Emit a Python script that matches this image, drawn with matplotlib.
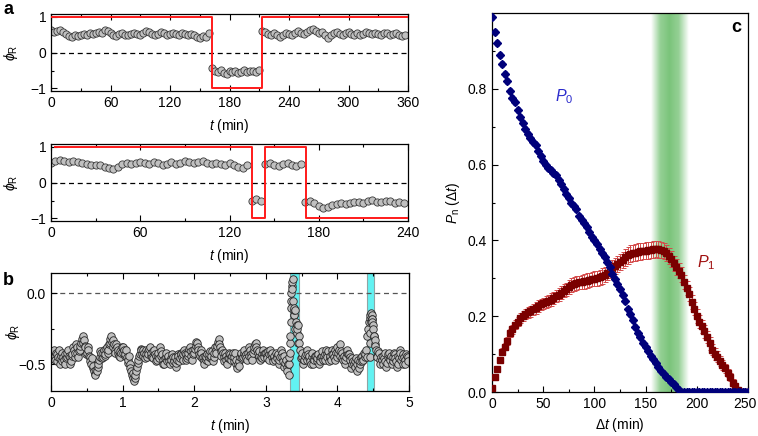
import numpy as np
import matplotlib.pyplot as plt
from matplotlib.transforms import ScaledTranslation

plt.rcParams['font.family'] = ['Liberation Sans', 'DejaVu Sans']
plt.rcParams['mathtext.fontset'] = 'custom'
plt.rcParams['mathtext.rm'] = 'Liberation Sans'
plt.rcParams['mathtext.it'] = 'Liberation Sans:italic'
plt.rcParams['font.size'] = 10

# ---- panel a (top): phi_R every 3 min, 0..357
a1_phi = [0.62, 0.58, 0.6, 0.62, 0.57, 0.52, 0.47, 0.45, 0.5, 0.46, 0.49, 0.53, 0.5, 0.55, 0.52, 0.56, 0.58, 0.55, 0.63, 0.6,
          0.55, 0.5, 0.47, 0.52, 0.55, 0.5, 0.48, 0.53, 0.56, 0.52, 0.5, 0.55, 0.6, 0.57, 0.52, 0.49, 0.53, 0.57, 0.55, 0.5,
          0.52, 0.56, 0.53, 0.5, 0.55, 0.52, 0.48, 0.53, 0.5, 0.45, 0.42, 0.47, 0.44, 0.54,
          -0.42, -0.5, -0.55, -0.48, -0.56, -0.6, -0.52, -0.55, -0.5, -0.58, -0.53, -0.49, -0.55, -0.52, -0.5, -0.54, -0.48,
          0.6, 0.57, 0.52, 0.5, 0.55, 0.48, 0.43, 0.5, 0.55, 0.52, 0.5, 0.56, 0.6, 0.55, 0.52, 0.58, 0.63, 0.65, 0.6, 0.55,
          0.57, 0.5, 0.42, 0.48, 0.55, 0.58, 0.52, 0.5, 0.54, 0.57, 0.52, 0.5, 0.55, 0.5, 0.53, 0.58, 0.55, 0.52, 0.56, 0.53,
          0.5, 0.55, 0.56, 0.5, 0.52, 0.56, 0.5, 0.46, 0.48]
a1_switch_t = [1, 162, 212.5, 360]
a1_state = [1, -1, 1, 1]

# ---- panel a (bottom): phi_R every 3 min, 0..237
a2_phi = [0.55, 0.6, 0.62, 0.6, 0.58, 0.6, 0.57, 0.55, 0.52, 0.5, 0.48, 0.5, 0.45, 0.4, 0.37, 0.45, 0.52, 0.55, 0.53, 0.56,
          0.58, 0.55, 0.52, 0.57, 0.55, 0.5, 0.53, 0.57, 0.52, 0.55, 0.6, 0.57, 0.55, 0.58, 0.6, 0.56, 0.53, 0.55, 0.52, 0.5,
          0.55, 0.48, 0.45, 0.42, 0.5,
          -0.5, -0.45, -0.52,
          0.52, 0.55, 0.5, 0.47, 0.52, 0.55, 0.5, 0.47, 0.53,
          -0.55, -0.52, -0.58, -0.65, -0.7, -0.68, -0.62, -0.6, -0.57, -0.6, -0.56, -0.53, -0.55, -0.57, -0.52, -0.48,
          -0.53, -0.55, -0.5, -0.52, -0.56, -0.53, -0.58]
a2_switch_t = [3, 135, 144, 171.5, 240]
a2_state = [1, -1, 1, -1, -1]

# ---- panel b: phi_R on a 0.02 min grid (b_phi) and the shifted 0.01 + 0.02k grid (b_phi2)
b_phi = [-0.42, -0.45, -0.4, -0.47, -0.43, -0.45, -0.5, -0.44, -0.42, -0.47, -0.5, -0.45, -0.4, -0.45, -0.48, -0.43, -0.4, -0.42, -0.38, -0.45, -0.4, -0.35, -0.3, -0.33, -0.38,
         -0.42, -0.4, -0.45, -0.5, -0.53, -0.55, -0.58, -0.55, -0.5, -0.45, -0.42, -0.45, -0.4, -0.43, -0.38, -0.4, -0.35, -0.3, -0.33, -0.36, -0.42, -0.38, -0.4, -0.45, -0.42,
         -0.38, -0.4, -0.43, -0.45, -0.47, -0.5, -0.55, -0.6, -0.62, -0.58, -0.52, -0.47, -0.43, -0.4, -0.44, -0.42, -0.4, -0.45, -0.43, -0.38, -0.42, -0.46, -0.4, -0.44, -0.47,
         -0.42, -0.38, -0.44, -0.47, -0.5, -0.45, -0.48, -0.44, -0.5, -0.47, -0.45, -0.48, -0.52, -0.47, -0.44, -0.46, -0.43, -0.47, -0.4, -0.43, -0.46, -0.42, -0.38, -0.44, -0.4,
         -0.42, -0.37, -0.35, -0.4, -0.44, -0.42, -0.45, -0.5, -0.47, -0.43, -0.45, -0.41, -0.44, -0.48, -0.42, -0.4, -0.37, -0.32, -0.38, -0.44, -0.42, -0.48, -0.44, -0.5, -0.46,
         -0.43, -0.47, -0.42, -0.45, -0.5, -0.53, -0.48, -0.45, -0.42, -0.45, -0.4, -0.43, -0.47, -0.44, -0.4, -0.45, -0.42, -0.38, -0.35, -0.4, -0.44, -0.47, -0.43, -0.4, -0.45,
         -0.42, -0.46, -0.43, -0.4, -0.45, -0.48, -0.44, -0.42, -0.46, -0.5, -0.45, -0.42, -0.48, -0.52, -0.47, -0.55, -0.58, -0.3, 0.05, 0.1, -0.1, -0.2, -0.25, -0.3, -0.4,
         -0.45, -0.5, -0.47, -0.43, -0.4, -0.46, -0.48, -0.45, -0.5, -0.47, -0.44, -0.46, -0.5, -0.48, -0.44, -0.47, -0.43, -0.4, -0.45, -0.48, -0.44, -0.4, -0.43, -0.47, -0.42,
         -0.38, -0.4, -0.44, -0.42, -0.47, -0.5, -0.45, -0.4, -0.43, -0.47, -0.5, -0.48, -0.52, -0.46, -0.5, -0.53, -0.48, -0.44, -0.47, -0.45, -0.4, -0.3, -0.2, -0.15, -0.18,
         -0.25, -0.33, -0.4, -0.45, -0.42, -0.5, -0.47, -0.44, -0.48, -0.52, -0.45, -0.42, -0.47, -0.5, -0.45, -0.43, -0.48, -0.5, -0.46, -0.42, -0.45, -0.5, -0.47, -0.43, -0.45]
b_phi2 = [-0.46, -0.41, -0.44, -0.42, -0.48, -0.4, -0.46, -0.48, -0.45, -0.43, -0.46, -0.42, -0.44, -0.5, -0.44, -0.38, -0.45, -0.36, -0.42, -0.41, -0.37, -0.32, -0.35, -0.37, -0.43,
          -0.38, -0.44, -0.48, -0.46, -0.51, -0.57, -0.54, -0.52, -0.47, -0.41, -0.46, -0.42, -0.44, -0.39, -0.42, -0.36, -0.32, -0.34, -0.38, -0.4, -0.36, -0.42, -0.44, -0.41, -0.38,
          -0.42, -0.44, -0.4, -0.49, -0.44, -0.53, -0.58, -0.56, -0.6, -0.55, -0.49, -0.44, -0.39, -0.43, -0.4, -0.46, -0.43, -0.41, -0.39, -0.44, -0.45, -0.41, -0.43, -0.48, -0.44,
          -0.46, -0.41, -0.43, -0.5, -0.46, -0.42, -0.45, -0.48, -0.46, -0.43, -0.49, -0.45, -0.49, -0.43, -0.48, -0.42, -0.45, -0.43, -0.42, -0.47, -0.44, -0.39, -0.41, -0.47, -0.43,
          -0.39, -0.34, -0.38, -0.43, -0.4, -0.46, -0.48, -0.44, -0.45, -0.48, -0.43, -0.46, -0.41, -0.45, -0.38, -0.42, -0.34, -0.36, -0.41, -0.4, -0.45, -0.42, -0.47, -0.46, -0.42,
          -0.45, -0.44, -0.48, -0.42, -0.47, -0.5, -0.51, -0.43, -0.46, -0.42, -0.44, -0.46, -0.42, -0.38, -0.43, -0.47, -0.4, -0.36, -0.38, -0.42, -0.41, -0.45, -0.46, -0.43, -0.42,
          -0.44, -0.41, -0.47, -0.43, -0.42, -0.45, -0.47, -0.44, -0.43, -0.47, -0.4, -0.45, -0.44, -0.49, -0.52, -0.5, -0.45, -0.05, 0.08, -0.15, -0.12, -0.28, -0.22, -0.35, -0.46,
          -0.42, -0.47, -0.44, -0.47, -0.43, -0.44, -0.5, -0.42, -0.46, -0.44, -0.48, -0.43, -0.46, -0.45, -0.41, -0.44, -0.47, -0.43, -0.41, -0.45, -0.47, -0.43, -0.45, -0.4, -0.45,
          -0.42, -0.36, -0.41, -0.46, -0.44, -0.47, -0.42, -0.43, -0.45, -0.53, -0.46, -0.5, -0.48, -0.55, -0.47, -0.5, -0.45, -0.48, -0.42, -0.43, -0.45, -0.25, -0.17, -0.14, -0.2,
          -0.3, -0.37, -0.44, -0.41, -0.47, -0.45, -0.5, -0.46, -0.42, -0.49, -0.43, -0.46, -0.44, -0.48, -0.42, -0.46, -0.52, -0.44, -0.4, -0.47, -0.43, -0.45, -0.5, -0.44, -0.48]
b_extra_t = [3.33, 3.335, 3.34, 3.345, 3.35, 3.355, 3.37, 3.375, 3.39, 3.395, 3.41, 3.43, 3.45,
             4.45, 4.455, 4.46, 4.47, 4.48, 4.49, 4.5, 4.51, 4.52]
b_extra_phi = [-0.5, -0.42, -0.35, -0.2, -0.1, 0.0, 0.03, -0.05, -0.15, -0.12, -0.25, -0.22, -0.35,
               -0.45, -0.35, -0.28, -0.2, -0.15, -0.18, -0.22, -0.3, -0.36]
b_bands = [(3.34, 3.46), (4.41, 4.51)]

# ---- panel c: P0, P1 every 2.5 min
c_P0 = [0.99, 0.95, 0.92, 0.89, 0.865, 0.84, 0.82, 0.795, 0.775, 0.765, 0.745, 0.725, 0.71, 0.695, 0.68, 0.67, 0.66,
        0.652, 0.635, 0.622, 0.61, 0.6, 0.59, 0.585, 0.578, 0.572, 0.56, 0.548, 0.535, 0.523, 0.512, 0.5, 0.49, 0.482,
        0.465, 0.455, 0.445, 0.435, 0.422, 0.41, 0.4, 0.39, 0.378, 0.368, 0.355, 0.343, 0.33, 0.312, 0.299, 0.285,
        0.272, 0.255, 0.24, 0.218, 0.205, 0.19, 0.172, 0.155, 0.144, 0.13, 0.12, 0.107, 0.096, 0.086, 0.077, 0.065,
        0.055, 0.047, 0.04, 0.034, 0.027, 0.02, 0.012, 0.004,
        0, 0, 0, 0, 0, 0, 0, 0, 0, 0, 0, 0, 0, 0, 0, 0, 0, 0, 0, 0, 0, 0, 0, 0, 0, 0, 0]
c_P1 = [0.01, 0.04, 0.062, 0.085, 0.106, 0.12, 0.135, 0.155, 0.165, 0.177, 0.185, 0.195, 0.2, 0.205, 0.21, 0.213,
        0.218, 0.222, 0.227, 0.231, 0.234, 0.237, 0.24, 0.244, 0.249, 0.253, 0.257, 0.262, 0.267, 0.271, 0.277, 0.282,
        0.285, 0.287, 0.289, 0.29, 0.292, 0.294, 0.296, 0.298, 0.299, 0.3, 0.303, 0.306, 0.309, 0.315, 0.32, 0.327,
        0.332, 0.338, 0.343, 0.349, 0.355, 0.361, 0.365, 0.367, 0.368, 0.37, 0.371, 0.372, 0.373, 0.374, 0.375, 0.376,
        0.377, 0.376, 0.375, 0.371, 0.366, 0.36, 0.352, 0.34, 0.33, 0.32, 0.31, 0.29, 0.275, 0.258, 0.238, 0.22, 0.2,
        0.185, 0.173, 0.16, 0.145, 0.128, 0.112, 0.1, 0.093, 0.082, 0.072, 0.063, 0.05, 0.04, 0.025, 0.015, 0.005,
        0, 0, 0, 0]
c_P1_err = [0.004, 0.006, 0.007, 0.008, 0.009, 0.01, 0.01, 0.011, 0.011, 0.012,
            0.012, 0.013, 0.013, 0.013, 0.014, 0.014, 0.014, 0.015, 0.015, 0.015,
            0.015, 0.015, 0.016, 0.016, 0.016, 0.016, 0.017, 0.017, 0.017, 0.017,
            0.018, 0.018, 0.018, 0.018, 0.018, 0.019, 0.019, 0.019, 0.019, 0.019,
            0.019, 0.019, 0.02, 0.02, 0.02, 0.02, 0.02, 0.021, 0.021, 0.021,
            0.021, 0.021, 0.022, 0.022, 0.022, 0.022, 0.022, 0.022, 0.022, 0.022,
            0.022, 0.022, 0.022, 0.022, 0.022, 0.022, 0.022, 0.021, 0.021, 0.021,
            0.021, 0.02, 0.02, 0.02, 0.02, 0.019, 0.019, 0.019, 0.018, 0.018,
            0.018, 0.017, 0.017, 0.017, 0.016, 0.016, 0.015, 0.015, 0.014, 0.013,
            0.013, 0.012, 0.011, 0.01, 0.008, 0.006, 0.004, 0.002, 0.001, 0.0, 0.0]
c_P0_err = 0.008
c_band = (155, 192)

a1_t = np.arange(len(a1_phi)) * 3
a2_t = np.arange(len(a2_phi)) * 3
b_t = np.arange(len(b_phi)) * 0.02
b_t2 = np.arange(len(b_phi2)) * 0.02 + 0.01
c_t = np.arange(len(c_P0)) * 2.5

grey = dict(marker='o', ls='none', ms=5.2, mfc='#c0c0c0', mec='#3a3a3a', mew=0.6)


def style(ax, top=True):
    ax.tick_params(which='both', direction='in', top=top, right=False, width=0.8, labelsize=10)
    ax.tick_params(which='major', length=4)
    ax.tick_params(which='minor', length=2.5)
    for s in ax.spines.values():
        s.set_linewidth(0.9)


fig = plt.figure(figsize=(7.58, 4.36), dpi=100)

# panel a top
ax1 = fig.add_axes([51/758, 1-91/436, 357/758, 77/436])
ax1.plot(a1_t, a1_phi, **grey, zorder=2)
ax1.step(a1_switch_t, a1_state, where='post', color='#ff1a1a', lw=1.4, zorder=3)
ax1.axhline(0, color='k', ls=(0, (4, 3)), lw=0.9)
ax1.set_xlim(0, 360)
ax1.set_ylim(-1.07, 1.08)
ax1.set_xticks(np.arange(0, 361, 60))
ax1.set_xticks(np.arange(30, 360, 60), minor=True)
ax1.set_yticks([-1, 0, 1])
ax1.set_yticks([-0.5, 0.5], minor=True)
ax1.set_yticklabels(['\u22121', '0', '1'])
ax1.set_xlabel('$t$ (min)', labelpad=5)
ax1.set_ylabel('$\\phi_\\mathrm{R}$')
ax1.yaxis.set_label_coords(-0.088, 0.5)
style(ax1)

# panel a bottom
ax2 = fig.add_axes([51/758, 1-221/436, 357/758, 77/436])
ax2.plot(a2_t, a2_phi, **grey, zorder=2)
ax2.step(a2_switch_t, a2_state, where='post', color='#ff1a1a', lw=1.4, zorder=3)
ax2.axhline(0, color='k', ls=(0, (4, 3)), lw=0.9)
ax2.set_xlim(0, 240)
ax2.set_ylim(-1.07, 1.08)
ax2.set_xticks(np.arange(0, 241, 60))
ax2.set_xticks(np.arange(30, 240, 60), minor=True)
ax2.set_yticks([-1, 0, 1])
ax2.set_yticks([-0.5, 0.5], minor=True)
ax2.set_yticklabels(['\u22121', '0', '1'])
ax2.set_xlabel('$t$ (min)', labelpad=5)
ax2.set_ylabel('$\\phi_\\mathrm{R}$')
ax2.yaxis.set_label_coords(-0.088, 0.5)
style(ax2)

# panel b
ax3 = fig.add_axes([51/758, 1-391/436, 358/758, 118/436])
for lo, hi in b_bands:
    ax3.axvspan(lo, hi, facecolor='#62f2f2', edgecolor='#8fa5a5', lw=0.8, zorder=1)
ax3.axhline(0, color='#555555', ls=(0, (4, 3)), lw=0.9, zorder=1)
bt = np.concatenate([b_t, b_t2, b_extra_t])
bp = np.concatenate([b_phi, b_phi2, b_extra_phi])
order = np.argsort(bt)
ax3.plot(bt[order], bp[order], **dict(grey, ms=5.4, mec='#262626'), zorder=2)
ax3.set_xlim(0, 5)
ax3.set_ylim(-0.69, 0.145)
ax3.set_xticks(range(6))
ax3.set_xticks(np.arange(0.5, 5, 1), minor=True)
ax3.set_yticks([-0.5, 0.0])
ax3.set_yticks([-0.25], minor=True)
ax3.set_yticklabels(['\u22120.5', '0.0'])
ax3.set_xlabel('$t$ (min)', labelpad=5)
ax3.set_ylabel('$\\phi_\\mathrm{R}$')
ax3.yaxis.set_label_coords(-0.082, 0.5)
style(ax3)

# panel c
ax4 = fig.add_axes([492/758, 1-392/436, 256/758, 379/436])
gx = np.linspace(c_band[0], c_band[1], 200)
galpha = np.interp(gx, [c_band[0], 164, 173, 182, c_band[1]], [0, 0.8, 1, 0.8, 0])
grad = np.zeros((1, len(gx), 4))
grad[..., 0] = 0.48
grad[..., 1] = 0.77
grad[..., 2] = 0.48
grad[..., 3] = galpha
ax4.imshow(grad, extent=[c_band[0], c_band[1], 0, 1], aspect='auto', zorder=0)
ax4.errorbar(c_t, c_P1, yerr=c_P1_err, fmt='s', ms=4.7, color='#7a0000', ecolor='#d44a4a',
             elinewidth=0.7, capsize=1.8, capthick=0.7, zorder=3)
ax4.errorbar(c_t, c_P0, yerr=c_P0_err, fmt='D', ms=4.4, color='#00007a', ecolor='#5c5cdc',
             elinewidth=0.7, capsize=1.5, capthick=0.7, zorder=4)
ax4.set_xlim(0, 250)
ax4.set_ylim(0, 1.0)
ax4.set_xticks(np.arange(0, 251, 50))
ax4.set_xticks(np.arange(25, 250, 50), minor=True)
ax4.set_yticks([0, 0.2, 0.4, 0.6, 0.8])
ax4.set_yticks([0.1, 0.3, 0.5, 0.7, 0.9], minor=True)
ax4.set_yticklabels(['0.0', '0.2', '0.4', '0.6', '0.8'])
ax4.set_xlabel('$\\Delta t$ (min)', labelpad=4)
ax4.set_ylabel('$P_\\mathrm{n}$ ($\\Delta t$)', labelpad=4)
ax4.text(71, 0.78, '$P_0$', color='#2a2acc', fontsize=11.5, ha='center', va='center')
ax4.text(209, 0.34, '$P_1$', color='#a01010', fontsize=11.5, ha='center', va='center')
ax4.text(0.955, 0.963, 'c', transform=ax4.transAxes, fontsize=13, fontweight='bold', ha='center', va='center')
style(ax4, top=False)
# keep the last tick label inside the figure
last = ax4.get_xticklabels()[-1]
last.set_transform(last.get_transform() + ScaledTranslation(-2.5/72, 0, fig.dpi_scale_trans))

fig.text(8/758, 1-9/436, 'a', fontsize=13, fontweight='bold', ha='center', va='center')
fig.text(8/758, 1-280/436, 'b', fontsize=13, fontweight='bold', ha='center', va='center')

plt.savefig('out.png', dpi=100)
